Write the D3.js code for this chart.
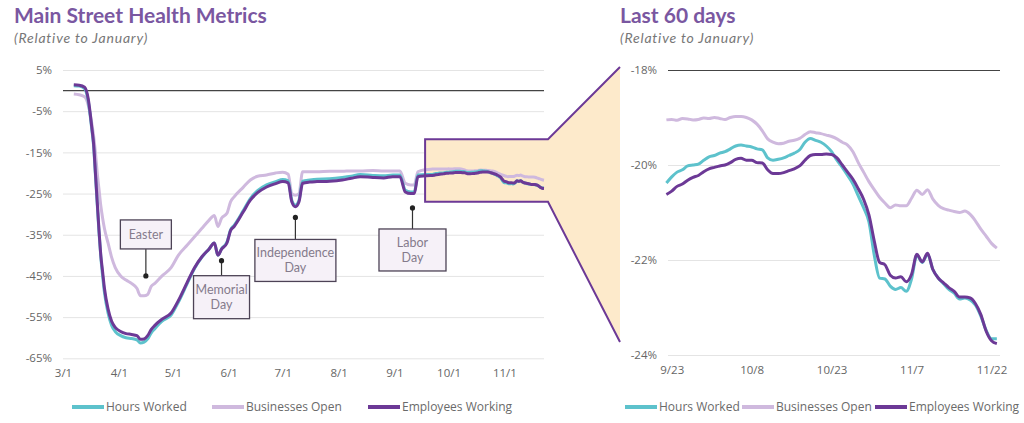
<!DOCTYPE html>
<html>
<head>
<meta charset="utf-8">
<script src="https://cdn.jsdelivr.net/npm/d3@7"></script>
<style>
  body { margin: 0; background: #fff; }
  svg { font-family: Lato, "Open Sans", sans-serif; }
</style>
</head>
<body>
<svg id="chart" width="1024" height="423"></svg>
<script>
// series names, in draw order (bottom to top)
const seriesNames = ["Businesses Open", "Hours Worked", "Employees Working"];
const legendOrder = ["Hours Worked", "Businesses Open", "Employees Working"];

// March - September (2020)
const earlyDates = ["3/7","3/10","3/13","3/15","3/17","3/18","3/19","3/20","3/21","3/22","3/23","3/24",
  "3/26","3/28","3/30","4/2","4/5","4/8","4/11","4/13","4/15","4/17","4/19","4/21","4/25","4/30",
  "5/4","5/9","5/13","5/17","5/21","5/24","5/26","5/28","5/31","6/2","6/4","6/9","6/13","6/17",
  "6/22","6/27","7/1","7/4","7/6","7/8","7/10","7/12","7/16","7/20","7/27","8/3","8/8","8/13",
  "8/20","8/26","8/31","9/4","9/7","9/10","9/12","9/14","9/18","9/21"];

const earlyOpen = [-0.8,-1.0,-1.5,-3.5,-8,-11,-15,-20,-24,-28,-31,-33.5,
  -37,-40.5,-43,-45,-46,-46.8,-48,-49.8,-49.8,-49.5,-47.5,-46.8,-45,-43,
  -40,-37.5,-35.5,-33.5,-31.5,-30.3,-33,-31,-29.8,-27,-25.8,-23.5,-21.7,-20.8,
  -20.5,-20,-19.8,-20.3,-25,-25.4,-25,-19.7,-19.7,-19.7,-19.6,-19.6,-19.5,-19.5,
  -19.4,-19.5,-19.5,-19.5,-22.5,-22.9,-22.9,-19.7,-19.2,-19.1];

const earlyHours = [1.2,1.1,0.5,-2.5,-9.5,-13.5,-20.5,-27.5,-34.5,-40.5,-45,-49,
  -54,-57,-58.5,-59.5,-60,-60.2,-60.5,-61.3,-61.1,-60.3,-58.8,-57.8,-56,-54.5,
  -51.4,-46.8,-43.2,-40.5,-38.5,-37,-40,-38.4,-36.8,-33.8,-32.7,-29.2,-26.2,-24.3,
  -22.9,-22.1,-21.6,-21.9,-26.6,-27.8,-26.6,-22,-21.7,-21.5,-21.4,-21.1,-20.8,-20.4,
  -20.6,-20.7,-20.5,-20.5,-24.2,-24.6,-24.6,-20.5,-20.4,-20.4];

const earlyEmployees = [1.4,1.3,0.8,-2,-9,-13,-20,-27,-34,-40,-44,-48,
  -53,-56,-57.5,-58.5,-59,-59.2,-59.5,-60.4,-60.3,-59.5,-58,-57,-55.5,-54,
  -51,-46.5,-43,-40.4,-38.5,-37,-40,-38.5,-37,-34,-33,-29.5,-26.6,-24.8,
  -23.4,-22.6,-22.1,-22.4,-27,-28.2,-27,-22.5,-22.2,-22.1,-22,-21.7,-21.3,-20.9,
  -21.1,-21.2,-20.9,-20.9,-24.6,-25,-25,-20.9,-20.7,-20.6];

// last 60 days, daily from 9/22 to 11/23
const recentStart = "9/22";
const recentOpen = [-19.05,-19.04,-19.06,-19.02,-19.03,-19.05,-19.04,-19.01,-19.02,-19.00,
  -19.02,-19.04,-19.00,-18.98,-18.98,-19.00,-19.05,-19.14,-19.28,-19.45,
  -19.52,-19.55,-19.54,-19.50,-19.48,-19.44,-19.36,-19.30,-19.32,-19.34,
  -19.37,-19.40,-19.45,-19.52,-19.58,-19.72,-19.95,-20.15,-20.35,-20.52,
  -20.68,-20.80,-20.90,-20.84,-20.86,-20.86,-20.70,-20.53,-20.62,-20.52,
  -20.72,-20.85,-20.92,-20.95,-20.98,-21.00,-20.97,-21.04,-21.18,-21.35,
  -21.50,-21.65,-21.75];
const recentHours = [-20.38,-20.25,-20.15,-20.10,-20.02,-20.00,-19.98,-19.90,-19.83,-19.80,
  -19.75,-19.72,-19.66,-19.60,-19.58,-19.60,-19.62,-19.66,-19.68,-19.85,
  -19.90,-19.88,-19.85,-19.80,-19.75,-19.68,-19.52,-19.44,-19.48,-19.52,
  -19.60,-19.72,-19.90,-20.05,-20.22,-20.40,-20.65,-20.90,-21.20,-21.90,
  -22.38,-22.40,-22.55,-22.62,-22.58,-22.66,-22.40,-21.90,-22.05,-21.88,
  -22.20,-22.38,-22.50,-22.62,-22.70,-22.82,-22.80,-22.84,-22.95,-23.18,
  -23.48,-23.66,-23.66];
const recentEmployees = [-20.62,-20.55,-20.45,-20.40,-20.32,-20.26,-20.22,-20.14,-20.08,-20.05,
  -20.02,-20.00,-19.95,-19.88,-19.86,-19.90,-19.90,-19.95,-19.96,-20.10,
  -20.18,-20.18,-20.16,-20.12,-20.08,-20.02,-19.90,-19.80,-19.78,-19.78,
  -19.77,-19.78,-19.85,-20.00,-20.15,-20.30,-20.50,-20.72,-21.05,-21.60,
  -22.05,-22.10,-22.32,-22.38,-22.35,-22.46,-22.30,-21.88,-22.04,-21.86,
  -22.20,-22.38,-22.48,-22.58,-22.66,-22.78,-22.78,-22.80,-22.92,-23.15,
  -23.50,-23.70,-23.76];

// axis ticks
const leftYTicks = [5, -5, -15, -25, -35, -45, -55, -65];
const rightYTicks = [-18, -20, -22, -24];
const rightXTicks = ["9/23", "10/8", "10/23", "11/7", "11/22"];

// annotations on the main chart
const annoLabels = [["Easter"], ["Memorial", "Day"], ["Independence", "Day"], ["Labor", "Day"]];
const annoDates = ["4/16", "5/28", "7/8", "9/11"];
const annoValues = [-45, -41.3, -30.8, -28.5];

const colors = {
  "Hours Worked": "#5dc2cc",
  "Businesses Open": "#cfb9de",
  "Employees Working": "#6c3996"
};
const tickFont = "'Open Sans', sans-serif";

const parse = s => d3.timeParse("%m/%d/%Y")(s + "/2020");
const fmt = d3.timeFormat("%-m/%-d");

const recentDates = recentOpen.map((v, i) => d3.timeDay.offset(parse(recentStart), i));
const toPoints = (dates, vals) => vals.map((v, i) => ({ date: dates[i], v }));

const early = earlyDates.map(parse);
const allDates = early.concat(recentDates);
const leftData = {
  "Businesses Open": toPoints(allDates, earlyOpen.concat(recentOpen)),
  "Hours Worked": toPoints(allDates, earlyHours.concat(recentHours)),
  "Employees Working": toPoints(allDates, earlyEmployees.concat(recentEmployees))
};
const rightData = {
  "Businesses Open": toPoints(recentDates, recentOpen),
  "Hours Worked": toPoints(recentDates, recentHours),
  "Employees Working": toPoints(recentDates, recentEmployees)
};

const svg = d3.select("#chart");

// ---------- titles ----------
function titles(x, title) {
  svg.append("text").attr("x", x).attr("y", 23)
    .attr("font-size", 21).attr("font-weight", 700).attr("fill", "#7a57a1")
    .text(title);
  svg.append("text").attr("x", x).attr("y", 43)
    .attr("font-size", 14).attr("font-style", "italic").attr("fill", "#777")
    .attr("letter-spacing", 0.8)
    .text("(Relative to January)");
}
titles(14, "Main Street Health Metrics");
titles(620, "Last 60 days");

// ---------- left panel ----------
const xL = d3.scaleTime().domain([parse("3/1"), parse("11/23")]).range([63, 544]);
const yL = d3.scaleLinear().domain([-65, 5]).range([358.3, 70]);

const left = svg.append("g");

left.append("g")
  .attr("transform", "translate(63,0)")
  .call(d3.axisLeft(yL).tickValues(leftYTicks).tickSize(-481).tickPadding(11)
    .tickFormat(d => d + "%"))
  .call(g => g.select(".domain").remove())
  .call(g => g.selectAll("line").attr("stroke", "#e4e4e4"))
  .call(g => g.selectAll("text").attr("fill", "#666").attr("font-size", 11.5)
    .attr("font-family", tickFont));

left.append("line")
  .attr("x1", 63).attr("x2", 544)
  .attr("y1", yL(0)).attr("y2", yL(0))
  .attr("stroke", "#444").attr("stroke-width", 1.2);

left.append("g")
  .attr("transform", `translate(0,${yL(-65)})`)
  .call(d3.axisBottom(xL).ticks(d3.timeMonth.every(1)).tickFormat(fmt).tickSize(0).tickPadding(11))
  .call(g => g.select(".domain").remove())
  .call(g => g.selectAll("text").attr("fill", "#666").attr("font-size", 11.5)
    .attr("font-family", tickFont));

// zoom highlight + funnel into the right panel (under the lines)
const hx0 = xL(parse("9/18")), hx1 = 548;
const hy0 = yL(-11.8), hy1 = yL(-27);
const fTop = 67, fBot = 342, fx = 620;
left.append("path")
  .attr("d", `M${hx0},${hy0}L${hx1},${hy0}L${fx},${fTop}L${fx},${fBot}L${hx1},${hy1}L${hx0},${hy1}Z`)
  .attr("fill", "#fdeacb");

const lineL = d3.line().x(d => xL(d.date)).y(d => yL(d.v)).curve(d3.curveMonotoneX);
seriesNames.forEach(name => {
  left.append("path")
    .datum(leftData[name])
    .attr("fill", "none")
    .attr("stroke", colors[name])
    .attr("stroke-width", 3)
    .attr("stroke-linejoin", "round")
    .attr("d", lineL);
});

left.append("path")
  .attr("d", `M${fx},${fTop}L${hx1},${hy0}L${hx0},${hy0}L${hx0},${hy1}L${hx1},${hy1}L${fx},${fBot}`)
  .attr("fill", "none").attr("stroke", "#6c3996").attr("stroke-width", 2);

// annotations: box placement relative to the marker
const annoBox = [
  { dir: -1, gap: 27, w: 51, h: 29 },
  { dir: 1, gap: 15, w: 56, h: 43 },
  { dir: 1, gap: 22, w: 81, h: 42 },
  { dir: 1, gap: 21, w: 67, h: 42 }
];
annoLabels.forEach((lines, i) => {
  const cx = xL(parse(annoDates[i])), cy = yL(annoValues[i]);
  const b = annoBox[i];
  const by = b.dir < 0 ? cy - b.gap - b.h : cy + b.gap;
  const edge = b.dir < 0 ? by + b.h : by;
  const g = left.append("g");
  g.append("line").attr("x1", cx).attr("x2", cx).attr("y1", cy).attr("y2", edge)
    .attr("stroke", "#333").attr("stroke-width", 1.2);
  g.append("circle").attr("cx", cx).attr("cy", cy).attr("r", 2.6).attr("fill", "#222");
  g.append("rect").attr("x", cx - b.w / 2).attr("y", by).attr("width", b.w).attr("height", b.h)
    .attr("fill", "#f6f1f8").attr("stroke", "#4d4356").attr("stroke-width", 1.3);
  const t0 = by + b.h / 2 - (lines.length - 1) * 7.5;
  lines.forEach((s, j) => {
    g.append("text").attr("x", cx).attr("y", t0 + j * 15).attr("dy", "0.35em")
      .attr("text-anchor", "middle").attr("font-size", 12.5).attr("fill", "#857b8c")
      .text(s);
  });
});

// ---------- right panel ----------
const xR = d3.scaleTime().domain([parse("9/22"), parse("11/25")]).range([666.4, 1007.5]);
const yR = d3.scaleLinear().domain([-24, -18]).range([355, 70]);

const right = svg.append("g");
right.append("g")
  .attr("transform", "translate(668,0)")
  .call(d3.axisLeft(yR).tickValues(rightYTicks).tickSize(-332).tickPadding(11)
    .tickFormat(d => d + "%"))
  .call(g => g.select(".domain").remove())
  .call(g => g.selectAll("line").attr("stroke", d => d === -18 ? "#444" : "#e4e4e4")
    .attr("stroke-width", d => d === -18 ? 1.2 : 1))
  .call(g => g.selectAll("text").attr("fill", "#666").attr("font-size", 11.5)
    .attr("font-family", tickFont));

right.append("g")
  .attr("transform", `translate(0,${yR(-24)})`)
  .call(d3.axisBottom(xR).tickValues(rightXTicks.map(parse)).tickFormat(fmt).tickSize(0).tickPadding(11))
  .call(g => g.select(".domain").remove())
  .call(g => g.selectAll("text").attr("fill", "#666").attr("font-size", 11.5)
    .attr("font-family", tickFont));

const lineR = d3.line().x(d => xR(d.date)).y(d => yR(d.v)).curve(d3.curveMonotoneX);
seriesNames.forEach(name => {
  right.append("path")
    .datum(rightData[name])
    .attr("fill", "none")
    .attr("stroke", colors[name])
    .attr("stroke-width", 3)
    .attr("stroke-linejoin", "round")
    .attr("d", lineR);
});

// ---------- legends ----------
function legend(xs) {
  legendOrder.forEach((name, i) => {
    svg.append("line").attr("x1", xs[i]).attr("x2", xs[i] + 32)
      .attr("y1", 407).attr("y2", 407)
      .attr("stroke", colors[name]).attr("stroke-width", 4);
    svg.append("text").attr("x", xs[i] + 34).attr("y", 407).attr("dy", "0.35em")
      .attr("font-size", 12).attr("font-family", tickFont)
      .attr("fill", "#6a6a6a").text(name);
  });
}
legend([72, 212, 368]);
legend([625, 742, 875]);
</script>
</body>
</html>
